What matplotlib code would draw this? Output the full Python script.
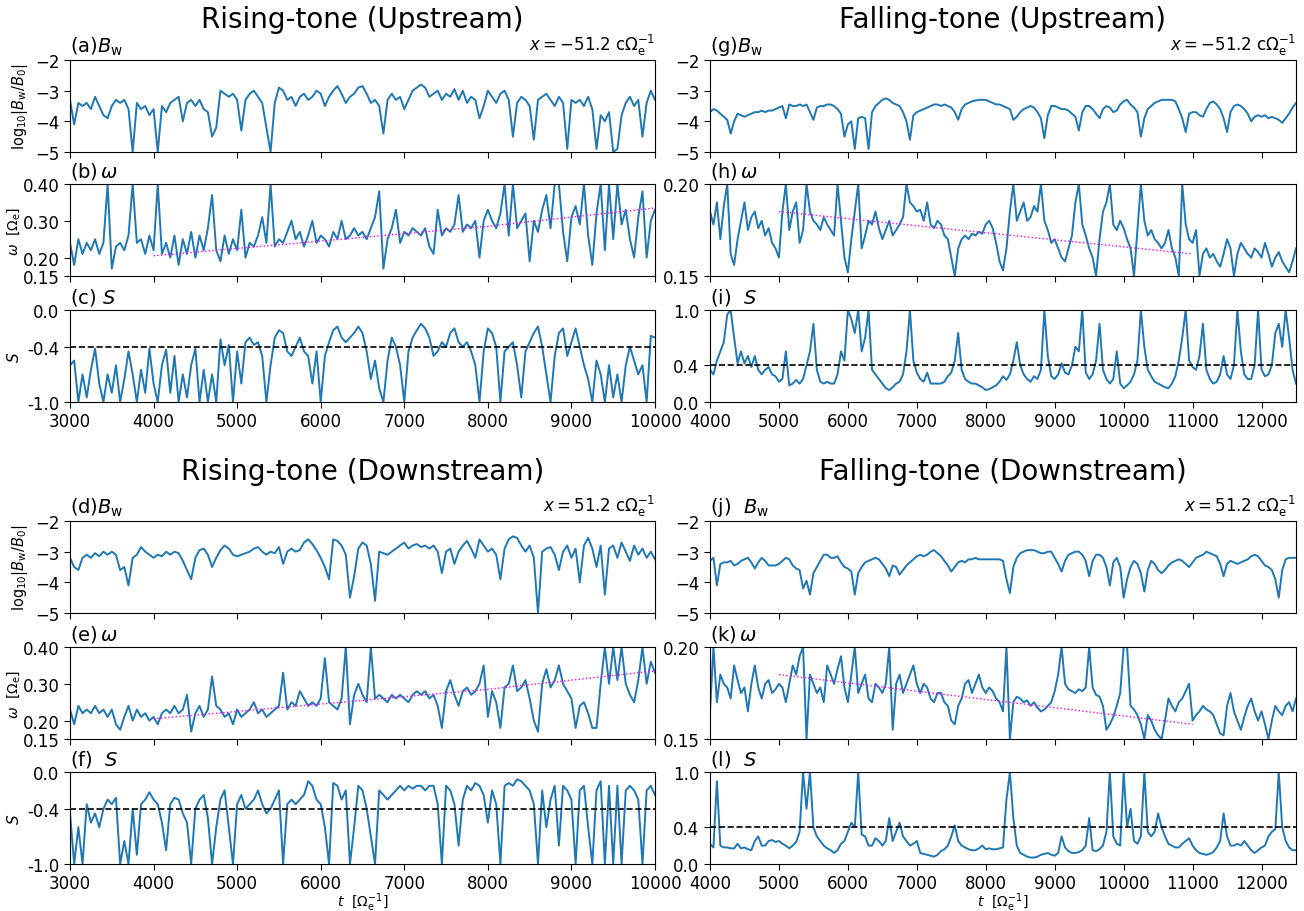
import numpy as np
import matplotlib
matplotlib.use("Agg")
import matplotlib.pyplot as plt

# ---- time axes (step of 50 in units of 1/Omega_e) ----
t_rise_lim = (3000, 10000)
t_fall_lim = (4000, 12500)

# ---- rising tone, upstream ----
bw_ru = [-3.3, -4.1, -3.4, -3.5, -3.4, -3.6, -3.2, -3.5, -3.8, -3.9, -3.5, -3.3, -3.4, -3.3, -3.6, -5.0,
         -3.4, -3.6, -3.5, -3.8, -3.6, -5.0, -3.5, -3.7, -3.4, -3.3, -3.2, -4.0, -3.4, -3.3, -3.5, -3.3,
         -3.6, -3.7, -4.5, -4.2, -3.0, -3.1, -3.2, -3.1, -3.3, -4.3, -3.3, -3.1, -3.0, -3.2, -3.4, -4.2,
         -5.0, -3.4, -2.9, -3.0, -3.3, -3.2, -3.5, -3.2, -3.1, -3.3, -3.2, -3.0, -3.1, -3.5, -3.2, -3.0,
         -2.85, -3.1, -3.4, -3.2, -3.1, -2.9, -2.85, -3.1, -3.4, -3.3, -3.5, -4.4, -3.3, -3.1, -3.3, -3.2,
         -3.6, -3.3, -3.0, -2.9, -2.8, -2.9, -3.2, -3.1, -3.0, -3.3, -3.1, -3.2, -2.95, -3.3, -3.0, -3.4,
         -3.2, -3.3, -3.9, -3.5, -3.0, -3.2, -3.4, -3.1, -3.0, -3.3, -4.5, -3.4, -3.2, -3.3, -3.5, -4.6,
         -3.3, -3.2, -3.1, -3.3, -3.5, -3.2, -3.4, -4.9, -3.3, -3.4, -3.3, -3.5, -3.2, -3.6, -4.9, -3.8,
         -4.0, -3.7, -5.0, -4.9, -3.8, -3.4, -3.2, -3.5, -3.3, -4.5, -3.4, -3.0, -3.3]
w_ru = [0.24, 0.18, 0.25, 0.21, 0.24, 0.22, 0.25, 0.21, 0.24, 0.40, 0.17, 0.23, 0.24, 0.22, 0.26, 0.40,
        0.24, 0.25, 0.21, 0.26, 0.22, 0.40, 0.21, 0.24, 0.20, 0.26, 0.18, 0.25, 0.21, 0.27, 0.20, 0.26,
        0.22, 0.28, 0.37, 0.22, 0.19, 0.26, 0.21, 0.25, 0.22, 0.33, 0.20, 0.24, 0.23, 0.26, 0.31, 0.24,
        0.40, 0.23, 0.25, 0.24, 0.27, 0.30, 0.25, 0.27, 0.23, 0.26, 0.30, 0.24, 0.26, 0.25, 0.23, 0.27,
        0.25, 0.30, 0.25, 0.26, 0.28, 0.26, 0.27, 0.25, 0.28, 0.31, 0.38, 0.17, 0.25, 0.28, 0.33, 0.24,
        0.27, 0.26, 0.28, 0.27, 0.26, 0.28, 0.23, 0.21, 0.33, 0.26, 0.28, 0.27, 0.29, 0.37, 0.27, 0.29,
        0.28, 0.30, 0.20, 0.30, 0.33, 0.30, 0.28, 0.32, 0.40, 0.26, 0.40, 0.28, 0.30, 0.32, 0.19, 0.30,
        0.27, 0.33, 0.37, 0.28, 0.40, 0.40, 0.27, 0.19, 0.31, 0.34, 0.29, 0.40, 0.26, 0.18, 0.32, 0.40,
        0.22, 0.40, 0.25, 0.40, 0.29, 0.33, 0.25, 0.20, 0.31, 0.38, 0.20, 0.30, 0.33]
s_ru = [-0.6, -0.55, -1.0, -0.7, -0.95, -0.65, -0.42, -0.8, -1.0, -0.7, -0.9, -0.6, -1.0, -0.75, -0.45,
        -0.7, -1.0, -0.65, -0.9, -0.42, -0.8, -1.0, -0.6, -0.43, -0.9, -0.5, -1.0, -0.7, -0.95, -0.6,
        -0.42, -1.0, -0.65, -1.0, -0.7, -1.0, -0.32, -0.6, -0.38, -1.0, -0.45, -0.8, -0.35, -0.3, -0.38,
        -0.35, -0.5, -1.0, -0.6, -0.3, -0.22, -0.25, -0.45, -0.5, -0.4, -0.3, -0.45, -0.5, -0.8, -0.45,
        -1.0, -0.5, -0.35, -0.22, -0.18, -0.3, -0.35, -0.3, -0.25, -0.18, -0.25, -0.45, -0.75, -0.55,
        -0.85, -1.0, -0.55, -0.3, -0.4, -0.6, -1.0, -0.45, -0.3, -0.22, -0.15, -0.2, -0.3, -0.5, -0.45,
        -0.35, -0.4, -0.25, -0.2, -0.35, -0.4, -0.35, -0.45, -0.6, -1.0, -0.45, -0.2, -0.25, -0.4, -1.0,
        -0.45, -0.4, -0.35, -0.6, -0.95, -0.45, -0.35, -0.25, -0.18, -0.4, -0.7, -1.0, -0.5, -0.25, -0.2,
        -0.5, -0.35, -0.2, -0.4, -0.6, -0.75, -1.0, -0.55, -0.7, -1.0, -0.6, -0.95, -0.7, -1.0, -0.6,
        -0.4, -0.55, -0.7, -0.6, -1.0, -0.28, -0.3]

# ---- rising tone, downstream ----
bw_rd = [-3.2, -3.5, -3.6, -3.2, -3.1, -3.2, -3.05, -3.15, -3.0, -3.1, -3.0, -3.1, -3.6, -3.5, -4.1, -3.2,
         -3.1, -2.85, -3.0, -3.1, -3.2, -3.1, -3.15, -3.0, -3.1, -3.0, -3.05, -3.3, -3.6, -3.9, -3.2, -2.95,
         -2.9, -3.1, -3.5, -3.2, -2.95, -2.8, -2.9, -3.1, -3.15, -3.1, -3.05, -3.0, -2.9, -2.85, -3.0, -3.1,
         -3.0, -3.05, -2.85, -3.4, -3.0, -2.9, -3.0, -2.95, -2.7, -2.6, -2.75, -2.95, -3.2, -3.5, -3.9, -2.6,
         -2.65, -2.8, -3.1, -4.5, -3.8, -2.9, -2.7, -2.8, -3.4, -4.6, -3.0, -3.05, -3.1, -3.0, -2.9, -2.8,
         -2.7, -2.9, -2.8, -2.75, -2.85, -2.8, -2.9, -2.8, -3.0, -3.7, -3.0, -2.9, -3.4, -3.0, -2.8, -2.65,
         -2.9, -3.2, -2.6, -2.8, -3.0, -2.9, -3.1, -3.9, -2.9, -2.6, -2.5, -2.55, -2.8, -3.0, -2.8, -3.2,
         -5.0, -3.0, -2.9, -2.85, -3.1, -3.6, -3.0, -2.8, -3.2, -2.9, -4.0, -2.8, -2.55, -2.9, -3.5, -2.8,
         -4.4, -2.9, -2.8, -3.2, -2.7, -3.0, -3.3, -2.8, -3.1, -2.9, -3.2, -3.0, -3.25]
w_rd = [0.23, 0.19, 0.24, 0.22, 0.23, 0.22, 0.24, 0.22, 0.23, 0.21, 0.23, 0.19, 0.175, 0.21, 0.24, 0.20,
        0.23, 0.21, 0.22, 0.20, 0.21, 0.19, 0.22, 0.23, 0.22, 0.24, 0.22, 0.23, 0.27, 0.17, 0.22, 0.24,
        0.21, 0.23, 0.32, 0.24, 0.23, 0.21, 0.22, 0.19, 0.23, 0.21, 0.22, 0.23, 0.25, 0.22, 0.23, 0.21,
        0.22, 0.23, 0.24, 0.33, 0.23, 0.25, 0.24, 0.28, 0.26, 0.24, 0.25, 0.24, 0.26, 0.37, 0.25, 0.24,
        0.23, 0.26, 0.40, 0.19, 0.27, 0.30, 0.27, 0.25, 0.40, 0.26, 0.27, 0.26, 0.25, 0.27, 0.26, 0.27,
        0.26, 0.25, 0.27, 0.28, 0.27, 0.28, 0.26, 0.27, 0.24, 0.18, 0.28, 0.31, 0.27, 0.24, 0.28, 0.29,
        0.27, 0.28, 0.30, 0.35, 0.21, 0.28, 0.25, 0.18, 0.29, 0.30, 0.35, 0.28, 0.29, 0.31, 0.26, 0.20,
        0.17, 0.30, 0.34, 0.29, 0.31, 0.35, 0.30, 0.28, 0.26, 0.18, 0.24, 0.25, 0.22, 0.18, 0.18, 0.30,
        0.40, 0.30, 0.40, 0.31, 0.40, 0.30, 0.27, 0.25, 0.31, 0.40, 0.30, 0.36, 0.33]
s_rd = [-0.45, -1.0, -0.6, -1.0, -0.35, -0.55, -0.45, -0.6, -0.4, -0.3, -0.35, -0.28, -1.0, -0.75, -1.0,
        -0.4, -0.9, -0.35, -0.3, -0.22, -0.3, -0.35, -0.55, -0.85, -0.35, -0.28, -0.3, -0.45, -0.55, -1.0,
        -0.4, -0.3, -0.25, -0.5, -1.0, -0.6, -0.3, -0.2, -0.6, -1.0, -0.35, -0.25, -0.4, -0.35, -0.3, -0.2,
        -0.35, -0.45, -0.4, -0.3, -0.2, -1.0, -0.35, -0.3, -0.35, -0.3, -0.25, -0.1, -0.15, -0.3, -0.35,
        -0.6, -1.0, -0.12, -0.15, -0.3, -0.2, -1.0, -0.6, -0.15, -0.2, -0.4, -0.7, -1.0, -0.2, -0.25, -0.3,
        -0.25, -0.2, -0.15, -0.2, -0.15, -0.18, -0.15, -0.15, -0.2, -0.15, -0.15, -0.35, -1.0, -0.15, -0.2,
        -0.35, -0.8, -0.3, -0.15, -0.2, -0.12, -0.15, -0.25, -0.55, -0.2, -0.35, -1.0, -0.15, -0.12, -0.15,
        -0.08, -0.1, -0.15, -0.2, -0.35, -1.0, -0.2, -0.6, -0.3, -0.15, -0.8, -0.15, -0.2, -0.3, -1.0, -0.2,
        -0.15, -0.6, -1.0, -0.2, -0.1, -1.0, -0.15, -1.0, -0.15, -1.0, -0.2, -0.15, -0.2, -0.3, -1.0, -0.2,
        -0.15, -0.25]

# ---- falling tone, upstream ----
bw_fu = [-3.7, -3.6, -3.65, -3.75, -3.85, -3.95, -4.4, -4.0, -3.75, -3.8, -3.85, -3.8, -3.75, -3.7, -3.7,
         -3.65, -3.7, -3.65, -3.65, -3.6, -3.55, -3.5, -3.9, -3.45, -3.5, -3.5, -3.45, -3.5, -3.45, -3.7,
         -3.95, -3.55, -3.5, -3.5, -3.45, -3.45, -3.5, -3.6, -3.75, -4.5, -4.1, -4.0, -4.9, -3.9, -3.85,
         -3.9, -4.9, -3.7, -3.5, -3.4, -3.3, -3.25, -3.3, -3.4, -3.45, -3.5, -3.7, -4.0, -4.6, -3.8, -3.7,
         -3.65, -3.6, -3.55, -3.5, -3.45, -3.45, -3.5, -3.45, -3.5, -3.55, -3.7, -3.95, -3.6, -3.45, -3.4,
         -3.35, -3.32, -3.3, -3.3, -3.3, -3.35, -3.4, -3.45, -3.45, -3.5, -3.55, -3.6, -3.95, -3.85, -3.7,
         -3.6, -3.55, -3.5, -3.55, -3.7, -3.9, -4.55, -3.8, -3.5, -3.5, -3.55, -3.6, -3.6, -3.65, -3.75,
         -3.85, -4.3, -3.7, -3.5, -3.5, -3.6, -3.75, -3.9, -3.6, -3.5, -3.55, -3.7, -3.65, -3.45, -3.35,
         -3.3, -3.45, -3.55, -3.7, -4.5, -3.9, -3.6, -3.5, -3.4, -3.35, -3.3, -3.3, -3.3, -3.3, -3.35, -3.6,
         -3.9, -4.35, -3.75, -3.7, -3.7, -3.8, -3.85, -3.6, -3.4, -3.35, -3.45, -3.6, -3.9, -4.35, -3.7,
         -3.5, -3.45, -3.5, -3.6, -3.75, -4.0, -3.85, -3.8, -3.85, -3.8, -3.9, -3.85, -3.9, -3.95, -4.05,
         -3.9, -3.75, -3.55, -3.4]
w_fu = [0.185, 0.178, 0.19, 0.17, 0.188, 0.2, 0.162, 0.156, 0.17, 0.18, 0.19, 0.175, 0.182, 0.185, 0.176,
        0.18, 0.172, 0.176, 0.168, 0.165, 0.16, 0.185, 0.2, 0.175, 0.185, 0.19, 0.168, 0.175, 0.2, 0.185,
        0.18, 0.178, 0.175, 0.182, 0.178, 0.175, 0.172, 0.2, 0.18, 0.16, 0.152, 0.17, 0.185, 0.2, 0.165,
        0.172, 0.18, 0.178, 0.185, 0.176, 0.17, 0.175, 0.18, 0.172, 0.175, 0.178, 0.182, 0.2, 0.19, 0.188,
        0.185, 0.186, 0.18, 0.19, 0.178, 0.176, 0.18, 0.178, 0.172, 0.17, 0.16, 0.15, 0.165, 0.17, 0.172,
        0.17, 0.173, 0.172, 0.174, 0.173, 0.178, 0.18, 0.176, 0.168, 0.158, 0.153, 0.165, 0.185, 0.2, 0.18,
        0.185, 0.19, 0.18, 0.182, 0.188, 0.185, 0.2, 0.18, 0.175, 0.168, 0.17, 0.165, 0.16, 0.158, 0.165,
        0.172, 0.19, 0.2, 0.178, 0.172, 0.165, 0.16, 0.15, 0.17, 0.185, 0.19, 0.2, 0.178, 0.175, 0.18,
        0.176, 0.17, 0.165, 0.15, 0.175, 0.2, 0.18, 0.172, 0.175, 0.17, 0.168, 0.165, 0.168, 0.175, 0.165,
        0.16, 0.15, 0.2, 0.178, 0.17, 0.168, 0.175, 0.15, 0.162, 0.165, 0.16, 0.162, 0.158, 0.155, 0.162,
        0.17, 0.165, 0.15, 0.162, 0.168, 0.165, 0.162, 0.16, 0.165, 0.163, 0.16, 0.168, 0.162, 0.155, 0.16,
        0.163, 0.158, 0.155, 0.152, 0.158, 0.165]
s_fu = [0.35, 0.3, 0.45, 0.55, 0.65, 0.95, 1.0, 0.7, 0.42, 0.55, 0.42, 0.5, 0.38, 0.5, 0.35, 0.3, 0.35,
        0.38, 0.3, 0.28, 0.22, 0.25, 0.55, 0.18, 0.2, 0.24, 0.2, 0.25, 0.4, 0.55, 0.85, 0.35, 0.22, 0.2,
        0.22, 0.2, 0.2, 0.3, 0.55, 0.45, 1.0, 0.9, 0.75, 1.0, 0.55, 0.7, 1.0, 0.35, 0.3, 0.25, 0.2, 0.15,
        0.13, 0.16, 0.2, 0.22, 0.3, 0.55, 1.0, 0.45, 0.32, 0.25, 0.22, 0.32, 0.2, 0.2, 0.2, 0.2, 0.22, 0.28,
        0.32, 0.45, 0.75, 0.35, 0.25, 0.22, 0.2, 0.2, 0.18, 0.16, 0.13, 0.14, 0.16, 0.18, 0.22, 0.28, 0.24,
        0.3, 0.45, 0.65, 0.4, 0.3, 0.25, 0.22, 0.28, 0.25, 0.35, 1.0, 0.5, 0.28, 0.25, 0.3, 0.42, 0.32, 0.3,
        0.4, 0.6, 0.55, 1.0, 0.32, 0.25, 0.3, 0.45, 0.85, 0.35, 0.25, 0.2, 0.25, 0.55, 0.2, 0.15, 0.18,
        0.22, 0.3, 0.45, 1.0, 0.6, 0.35, 0.28, 0.22, 0.2, 0.18, 0.16, 0.15, 0.2, 0.28, 0.45, 0.7, 1.0, 0.45,
        0.38, 0.35, 0.5, 0.85, 0.35, 0.25, 0.2, 0.22, 0.3, 0.5, 0.3, 0.25, 0.4, 1.0, 0.55, 0.3, 0.25, 0.25,
        0.4, 1.0, 0.35, 0.28, 0.3, 0.4, 0.75, 0.85, 0.6, 1.0, 0.7, 0.35, 0.2]

# ---- falling tone, downstream ----
bw_fd = [-3.3, -3.2, -4.1, -3.4, -3.35, -3.35, -3.3, -3.45, -3.4, -3.3, -3.25, -3.2, -3.35, -3.55, -3.35,
         -3.2, -3.3, -3.45, -3.45, -3.45, -3.4, -3.3, -3.2, -3.25, -3.45, -3.55, -3.6, -4.2, -3.95, -4.4,
         -3.7, -3.5, -3.3, -3.1, -3.1, -3.2, -3.2, -3.15, -3.35, -3.5, -3.55, -3.65, -4.4, -3.7, -3.5, -3.35,
         -3.3, -3.25, -3.2, -3.25, -3.4, -3.55, -3.8, -3.45, -3.5, -3.75, -3.6, -3.45, -3.35, -3.25, -3.15,
         -3.1, -3.15, -3.1, -3.0, -2.95, -3.05, -3.15, -3.3, -3.45, -3.65, -3.5, -3.35, -3.3, -3.35, -3.25,
         -3.25, -3.2, -3.25, -3.25, -3.25, -3.25, -3.25, -3.25, -3.25, -3.3, -3.9, -4.35, -3.5, -3.2, -3.05,
         -3.0, -2.95, -2.95, -2.95, -3.0, -3.05, -3.05, -3.0, -3.0, -3.2, -3.4, -3.65, -3.3, -3.1, -3.05,
         -3.0, -3.0, -3.1, -3.3, -3.8, -3.3, -3.1, -3.1, -3.2, -3.5, -4.1, -3.35, -3.2, -3.5, -4.5, -3.9,
         -3.5, -3.3, -3.4, -3.7, -4.3, -3.6, -3.3, -3.4, -3.6, -3.7, -3.6, -3.45, -3.35, -3.3, -3.25, -3.3,
         -3.4, -3.5, -3.35, -3.2, -3.15, -3.1, -3.0, -3.05, -3.1, -3.15, -3.4, -3.8, -3.4, -3.3, -3.35,
         -3.4, -3.35, -3.3, -3.25, -3.15, -3.1, -3.15, -3.3, -3.45, -3.5, -3.6, -3.9, -4.5, -3.6, -3.25,
         -3.2, -3.2, -3.2]
w_fd = [0.165, 0.2, 0.17, 0.185, 0.18, 0.178, 0.172, 0.19, 0.182, 0.175, 0.178, 0.165, 0.18, 0.19, 0.178,
        0.172, 0.18, 0.182, 0.175, 0.177, 0.18, 0.178, 0.17, 0.18, 0.19, 0.185, 0.195, 0.2, 0.15, 0.185,
        0.18, 0.175, 0.178, 0.17, 0.19, 0.185, 0.18, 0.188, 0.195, 0.178, 0.17, 0.185, 0.2, 0.175, 0.18,
        0.185, 0.172, 0.17, 0.18, 0.178, 0.175, 0.18, 0.2, 0.155, 0.18, 0.185, 0.175, 0.18, 0.185, 0.19,
        0.18, 0.175, 0.18, 0.178, 0.172, 0.17, 0.175, 0.175, 0.17, 0.168, 0.16, 0.158, 0.168, 0.172, 0.18,
        0.182, 0.175, 0.18, 0.185, 0.178, 0.175, 0.178, 0.176, 0.172, 0.17, 0.165, 0.2, 0.15, 0.17, 0.173,
        0.172, 0.17, 0.171, 0.168, 0.17, 0.167, 0.165, 0.166, 0.168, 0.17, 0.176, 0.185, 0.2, 0.18, 0.177,
        0.176, 0.175, 0.177, 0.176, 0.178, 0.2, 0.178, 0.174, 0.173, 0.168, 0.155, 0.158, 0.162, 0.168,
        0.175, 0.2, 0.2, 0.168, 0.166, 0.163, 0.158, 0.15, 0.163, 0.16, 0.155, 0.152, 0.15, 0.16, 0.172,
        0.168, 0.165, 0.17, 0.172, 0.176, 0.18, 0.16, 0.163, 0.165, 0.168, 0.166, 0.165, 0.163, 0.158,
        0.153, 0.152, 0.168, 0.175, 0.165, 0.16, 0.155, 0.162, 0.168, 0.172, 0.165, 0.16, 0.165, 0.158,
        0.15, 0.16, 0.168, 0.165, 0.163, 0.168, 0.17, 0.165, 0.172]
s_fd = [0.22, 0.18, 0.9, 0.2, 0.18, 0.18, 0.17, 0.17, 0.22, 0.17, 0.18, 0.16, 0.15, 0.25, 0.3, 0.2, 0.2,
        0.25, 0.26, 0.24, 0.25, 0.22, 0.2, 0.17, 0.2, 0.24, 0.35, 1.0, 0.6, 1.0, 0.4, 0.3, 0.25, 0.2, 0.17,
        0.15, 0.12, 0.15, 0.22, 0.25, 0.35, 0.45, 0.4, 1.0, 0.32, 0.3, 0.2, 0.2, 0.28, 0.25, 0.2, 0.25, 0.5,
        0.25, 0.35, 0.45, 0.3, 0.25, 0.2, 0.22, 0.25, 0.12, 0.11, 0.1, 0.09, 0.08, 0.1, 0.14, 0.16, 0.2, 0.3,
        0.42, 0.25, 0.2, 0.18, 0.16, 0.15, 0.15, 0.17, 0.2, 0.16, 0.17, 0.16, 0.16, 0.17, 0.18, 0.7, 1.0,
        0.5, 0.2, 0.12, 0.1, 0.08, 0.07, 0.07, 0.08, 0.1, 0.11, 0.12, 0.1, 0.09, 0.12, 0.3, 0.18, 0.14, 0.12,
        0.12, 0.13, 0.15, 0.2, 0.5, 0.15, 0.14, 0.16, 0.2, 0.35, 1.0, 0.3, 0.22, 0.2, 1.0, 0.4, 0.6, 0.25,
        0.22, 0.3, 1.0, 0.35, 0.3, 0.35, 0.55, 0.4, 0.3, 0.22, 0.2, 0.18, 0.18, 0.22, 0.25, 0.28, 0.2, 0.15,
        0.12, 0.11, 0.1, 0.11, 0.13, 0.18, 0.25, 0.55, 0.3, 0.2, 0.2, 0.22, 0.2, 0.25, 0.2, 0.15, 0.12, 0.15,
        0.18, 0.2, 0.3, 0.35, 0.38, 1.0, 0.4, 0.25, 0.18, 0.15, 0.15]

# frequency-sweep reference lines
trend_rise_t = [4000, 6000, 8000, 10000]
trend_rise_w = [0.205, 0.245, 0.285, 0.335]
trend_fall_t = [5000, 11000]
trend_fall_w_up = [0.185, 0.162]
trend_fall_w_down = [0.185, 0.158]

s_thr_rise = -0.4
s_thr_fall = 0.4

BLUE = "#1f77b4"
W, H = 1304, 912
fig = plt.figure(figsize=(W / 100, H / 100), dpi=100)


def ax_at(x0, ytop, w=585, h=92):
    return fig.add_axes([x0 / W, 1 - (ytop + h) / H, w / W, h / H])


def style(ax, xlim, xticks, show_x):
    ax.set_xlim(*xlim)
    ax.set_xticks(xticks)
    ax.tick_params(labelsize=12, length=4)
    if not show_x:
        ax.set_xticklabels([])


def panel_label(ax, s):
    ax.text(0.0, 1.03, s, transform=ax.transAxes, ha="left", va="bottom", fontsize=14)


def pos_label(ax, s):
    ax.text(1.0, 1.03, s, transform=ax.transAxes, ha="right", va="bottom", fontsize=12)


def draw_group(x0, w, ytops, lims, ticks, bw, wv, sv, labels, pos, trend_t, trend_w,
               thr, s_ylim, s_ticks, w_ylim, w_ticks, ylabels, title, title_y):
    t = np.linspace(lims[0], lims[1], len(bw))
    a1 = ax_at(x0, ytops[0], w)
    a1.plot(t, bw, color=BLUE, lw=1.4)
    a1.set_ylim(-5, -2)
    a1.set_yticks([-5, -4, -3, -2])
    style(a1, lims, ticks, False)
    panel_label(a1, labels[0])
    pos_label(a1, pos)

    t = np.linspace(lims[0], lims[1], len(wv))
    a2 = ax_at(x0, ytops[1], w)
    a2.plot(t, wv, color=BLUE, lw=1.4)
    a2.plot(trend_t, trend_w, color="magenta", ls=":", lw=1.0)
    a2.set_ylim(*w_ylim)
    a2.set_yticks(w_ticks)
    a2.set_yticklabels(["%.2f" % v for v in w_ticks])
    style(a2, lims, ticks, False)
    panel_label(a2, labels[1])

    t = np.linspace(lims[0], lims[1], len(sv))
    a3 = ax_at(x0, ytops[2], w)
    a3.plot(t, sv, color=BLUE, lw=1.4)
    a3.axhline(thr, color="black", ls="--", lw=1.2)
    a3.set_ylim(*s_ylim)
    a3.set_yticks(s_ticks)
    a3.set_yticklabels(["%.1f" % v for v in s_ticks])
    style(a3, lims, ticks, True)
    panel_label(a3, labels[2])

    if ylabels:
        a1.set_ylabel(r"log$_{10}$|$B_\mathrm{w}/B_0$|", fontsize=10.5)
        a2.set_ylabel(r"$\omega$  [$\Omega_\mathrm{e}$]", fontsize=10)
        a3.set_ylabel(r"$S$", fontsize=11)
        a1.yaxis.set_label_coords(-0.068, 0.5)
        a2.yaxis.set_label_coords(-0.082, 0.5)
        a3.yaxis.set_label_coords(-0.082, 0.5)
    fig.text((x0 + w / 2) / W, 1 - title_y / H, title, ha="center", va="center", fontsize=20)
    return a3


rise_ticks = np.arange(3000, 10001, 1000)
fall_ticks = np.arange(4000, 12001, 1000)
pos_up = r"$x = -51.2$ c$\Omega_\mathrm{e}^{-1}$"
pos_down = r"$x = 51.2$ c$\Omega_\mathrm{e}^{-1}$"

draw_group(70, 585, [61, 185, 311], t_rise_lim, rise_ticks, bw_ru, w_ru, s_ru,
           [r"(a)$B_\mathrm{w}$", r"(b)$\,\omega$", r"(c) $S$"], pos_up,
           trend_rise_t, trend_rise_w, s_thr_rise, (-1.0, 0.0), [-1.0, -0.4, 0.0],
           (0.15, 0.40), [0.15, 0.20, 0.30, 0.40], True, "Rising-tone (Upstream)", 20)
af = draw_group(70, 585, [522, 648, 773], t_rise_lim, rise_ticks, bw_rd, w_rd, s_rd,
                [r"(d)$B_\mathrm{w}$", r"(e)$\,\omega$", r"(f)  $S$"], pos_down,
                trend_rise_t, trend_rise_w, s_thr_rise, (-1.0, 0.0), [-1.0, -0.4, 0.0],
                (0.15, 0.40), [0.15, 0.20, 0.30, 0.40], True, "Rising-tone (Downstream)", 472)
draw_group(710, 586, [61, 185, 311], t_fall_lim, fall_ticks, bw_fu, w_fu, s_fu,
           [r"(g)$B_\mathrm{w}$", r"(h)$\,\omega$", r"(i)  $S$"], pos_up,
           trend_fall_t, trend_fall_w_up, s_thr_fall, (0.0, 1.0), [0.0, 0.4, 1.0],
           (0.15, 0.20), [0.15, 0.20], False, "Falling-tone (Upstream)", 20)
al = draw_group(710, 586, [522, 648, 773], t_fall_lim, fall_ticks, bw_fd, w_fd, s_fd,
                [r"(j)  $B_\mathrm{w}$", r"(k)$\,\omega$", r"(l)  $S$"], pos_down,
                trend_fall_t, trend_fall_w_down, s_thr_fall, (0.0, 1.0), [0.0, 0.4, 1.0],
                (0.15, 0.20), [0.15, 0.20], False, "Falling-tone (Downstream)", 472)

for ax in (af, al):
    ax.set_xlabel(r"$t$  [$\Omega_\mathrm{e}^{-1}$]", fontsize=10)
    ax.xaxis.set_label_coords(0.5, -0.29)

fig.savefig("out.png", dpi=100)
